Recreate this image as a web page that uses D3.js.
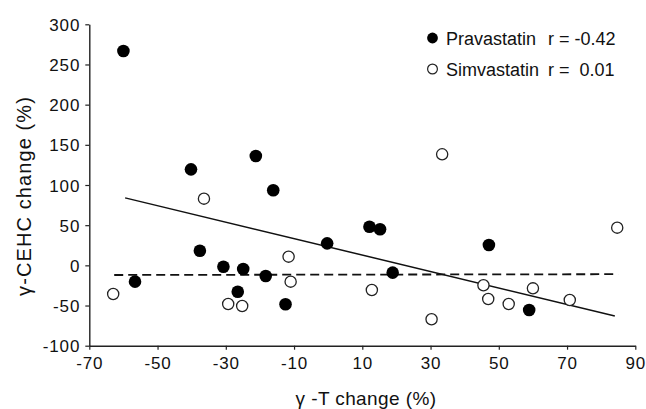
<!DOCTYPE html>
<html>
<head>
<meta charset="utf-8">
<script src="https://cdn.jsdelivr.net/npm/d3@7"></script>
<style>
  body { margin: 0; background: #fff; }
  svg text { font-family: "Liberation Sans", Arial, Helvetica, sans-serif; fill: #111; }
</style>
</head>
<body>
<div id="chart"></div>
<script>
// Pravastatin (filled) : gamma-T change vs gamma-CEHC change
const pravX = [-60, -40.2, -21.2, -16.1, -56.6, -37.6, -30.7, -24.9, -26.5, -18.3, -12.5, -0.3, 12.1, 15.2, 18.9, 47.1, 58.9];
const pravY = [266.8, 119.5, 136, 93.4, -20.3, 18.2, -1.7, -4.5, -32.8, -13.3, -48.5, 27.4, 48.1, 44.9, -9.1, 25.3, -55.6];

// Simvastatin (open)
const simvX = [-36.4, 33.4, -63, -29.3, -25.2, -11.6, -11, 12.8, 30.3, 45.5, 46.9, 52.9, 60, 70.8, 84.7];
const simvY = [83, 138.2, -35.7, -48.1, -50.6, 10.8, -20.3, -30.7, -67.1, -24.8, -41.9, -48.1, -28.6, -43.1, 46.9];

// fitted lines (end points)
const pravFit = [[-59.5, 84], [84, -63]];
const simvFit = [[-62.7, -12], [85, -11]];

const xTicks = [-70, -50, -30, -10, 10, 30, 50, 70, 90];
const yTicks = [-100, -50, 0, 50, 100, 150, 200, 250, 300];

const legendLabels = ["Pravastatin", "Simvastatin"];
const legendR = ["r = -0.42", "r =  0.01"];

const width = 646;
const height = 409;

const x = d3.scaleLinear().domain([-70, 90]).range([89.3, 635.3]);
const y = d3.scaleLinear().domain([-100, 300]).range([345.7, 24.3]);

const svg = d3.select("#chart")
    .append("svg")
    .attr("width", width)
    .attr("height", height);

// axes (plain hyphen for negatives, like the original)
const plain = d => String(d);

const xAxis = svg.append("g")
    .attr("transform", `translate(0,${y(-100)})`)
    .call(d3.axisBottom(x).tickValues(xTicks).tickFormat(plain).tickSize(4).tickSizeOuter(0).tickPadding(7));

const yAxis = svg.append("g")
    .attr("transform", `translate(${x(-70)},0)`)
    .call(d3.axisLeft(y).tickValues(yTicks).tickFormat(plain).tickSize(4).tickSizeOuter(0).tickPadding(5));

[xAxis, yAxis].forEach(g => {
    g.select(".domain").attr("stroke", "#222").attr("stroke-width", 1.4);
    g.selectAll(".tick line").attr("stroke", "#222").attr("stroke-width", 1.2);
    g.selectAll(".tick text")
        .attr("font-size", 17)
        .attr("letter-spacing", 0.9)
        .attr("fill", "#111");
});
yAxis.selectAll(".tick text").attr("dy", "0.36em");

// axis titles
svg.append("text")
    .attr("x", 366)
    .attr("y", 405)
    .attr("text-anchor", "middle")
    .attr("font-size", 19)
    .attr("letter-spacing", 0.4)
    .text("γ -T change (%)");

svg.append("text")
    .attr("transform", "translate(31,196) rotate(-90)")
    .attr("text-anchor", "middle")
    .attr("font-size", 20)
    .attr("letter-spacing", 1.1)
    .text("γ-CEHC change (%)");

// fit lines
const line = d3.line().x(d => x(d[0])).y(d => y(d[1]));

svg.append("path")
    .attr("d", line(pravFit))
    .attr("fill", "none")
    .attr("stroke", "#111")
    .attr("stroke-width", 1.5);

svg.append("path")
    .attr("d", line(simvFit))
    .attr("fill", "none")
    .attr("stroke", "#111")
    .attr("stroke-width", 1.8)
    .attr("stroke-dasharray", "9,5");

// points
svg.append("g")
    .selectAll("circle")
    .data(simvX.map((v, i) => [v, simvY[i]]))
    .join("circle")
    .attr("cx", d => x(d[0]))
    .attr("cy", d => y(d[1]))
    .attr("r", 5.6)
    .attr("fill", "#fff")
    .attr("stroke", "#222")
    .attr("stroke-width", 1.3);

svg.append("g")
    .selectAll("circle")
    .data(pravX.map((v, i) => [v, pravY[i]]))
    .join("circle")
    .attr("cx", d => x(d[0]))
    .attr("cy", d => y(d[1]))
    .attr("r", 6.3)
    .attr("fill", "#000");

// legend
const legend = svg.append("g");
const rowY = [38, 69];

legend.selectAll("circle")
    .data(legendLabels)
    .join("circle")
    .attr("cx", 432.5)
    .attr("cy", (d, i) => rowY[i])
    .attr("r", (d, i) => i === 0 ? 5.4 : 4.9)
    .attr("fill", (d, i) => i === 0 ? "#000" : "#fff")
    .attr("stroke", "#222")
    .attr("stroke-width", (d, i) => i === 0 ? 0 : 1.2);

legend.selectAll("text.name")
    .data(legendLabels)
    .join("text")
    .attr("class", "name")
    .attr("x", 446)
    .attr("y", (d, i) => rowY[i] + 7)
    .attr("font-size", 18)
    .text(d => d);

legend.selectAll("text.r")
    .data(legendR)
    .join("text")
    .attr("class", "r")
    .attr("x", 548)
    .attr("y", (d, i) => rowY[i] + 7)
    .attr("font-size", 18)
    .attr("xml:space", "preserve")
    .style("white-space", "pre")
    .text(d => d);
</script>
</body>
</html>
